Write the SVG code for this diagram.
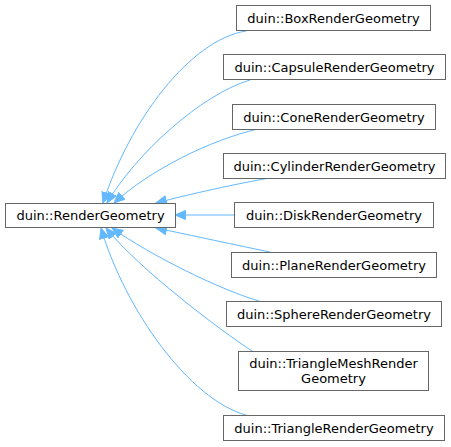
<svg xmlns="http://www.w3.org/2000/svg" width="451" height="447" viewBox="0 0 451 447">
<style>
.n rect{fill:#fff;stroke:#666;stroke-width:1}
.n text{font-family:"DejaVu Sans",sans-serif;font-size:13px;fill:#000;text-anchor:middle}
.e path{fill:none;stroke:#63b8ff;stroke-width:1}
</style>
<defs>
<marker id="ah" markerUnits="userSpaceOnUse" markerWidth="13" markerHeight="12" refX="11" refY="5" orient="auto">
<path d="M0.5,0.5 L11,5 L0.5,9.5 z" fill="#63b8ff" stroke="#63b8ff" stroke-width="1"/>
</marker>
</defs>
<rect width="451" height="447" fill="#fff"/>
<g class="e" id="edges">
<path d="M246,31 C190,40 130,120 103,203" marker-end="url(#ah)"/>
<path d="M250,80 C200,95 135,155 107,203" marker-end="url(#ah)"/>
<path d="M258,129 C210,140 150,170 114,203" marker-end="url(#ah)"/>
<path d="M270,178 C240,183 190,194 156,203" marker-end="url(#ah)"/>
<path d="M234,215 L175,215" marker-end="url(#ah)"/>
<path d="M270,252 C240,246 190,235 156,228" marker-end="url(#ah)"/>
<path d="M262,302 C220,290 150,255 112,228" marker-end="url(#ah)"/>
<path d="M252,351 C220,330 140,270 106,228" marker-end="url(#ah)"/>
<path d="M246,415 C190,400 125,310 101,228" marker-end="url(#ah)"/>
</g>
<g class="n" id="base"><rect x="5.5" y="203.5" width="170" height="24"/><text x="90.5" y="220">duin::RenderGeometry</text></g>
<g class="n" id="box"><rect x="236.5" y="5.5" width="194" height="25"/><text x="333.5" y="22.5">duin::BoxRenderGeometry</text></g>
<g class="n" id="capsule"><rect x="223.5" y="54.5" width="222" height="25"/><text x="334.5" y="71.5">duin::CapsuleRenderGeometry</text></g>
<g class="n" id="cone"><rect x="232.5" y="104.5" width="203" height="25"/><text x="334" y="121.5">duin::ConeRenderGeometry</text></g>
<g class="n" id="cylinder"><rect x="223.5" y="153.5" width="222" height="25"/><text x="334.5" y="170.5">duin::CylinderRenderGeometry</text></g>
<g class="n" id="disk"><rect x="234.5" y="202.5" width="199" height="25"/><text x="334" y="219.5">duin::DiskRenderGeometry</text></g>
<g class="n" id="plane"><rect x="231.5" y="252.5" width="205" height="25"/><text x="334" y="269.5">duin::PlaneRenderGeometry</text></g>
<g class="n" id="sphere"><rect x="226.5" y="301.5" width="215" height="25"/><text x="334" y="318.5">duin::SphereRenderGeometry</text></g>
<g class="n" id="trianglemesh"><rect x="238.5" y="351.5" width="190" height="39"/><text x="333.5" y="367.5">duin::TriangleMeshRender</text><text x="333.5" y="382.5">Geometry</text></g>
<g class="n" id="triangle"><rect x="223.5" y="415.5" width="221" height="25"/><text x="334" y="432.5">duin::TriangleRenderGeometry</text></g>
</svg>
